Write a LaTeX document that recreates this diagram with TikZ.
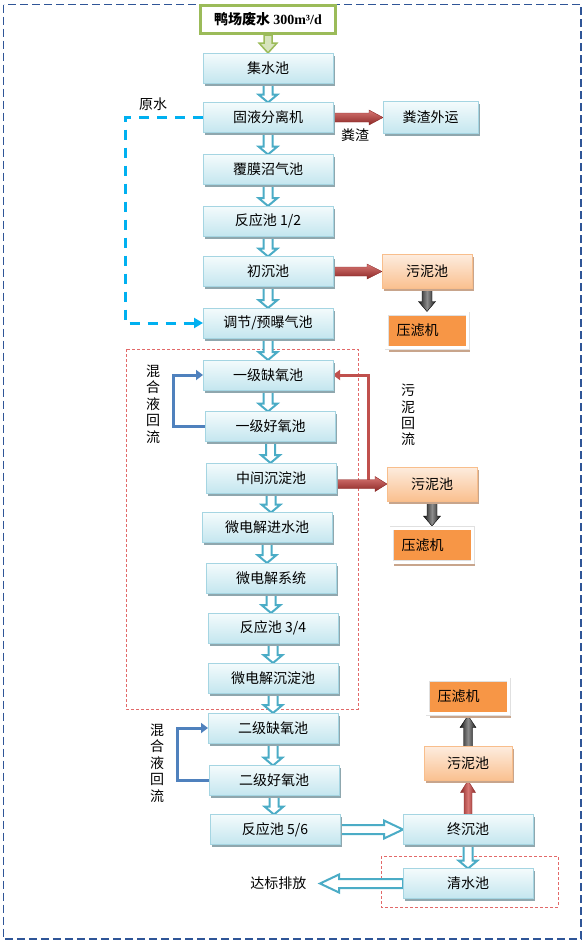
\documentclass[tikz,border=0pt]{standalone}
\usepackage{fontspec}
\setmainfont{Noto Sans CJK SC}
\newfontfamily\tnr{Liberation Serif}
\usepackage{tikz}
\usetikzlibrary{positioning, calc, shadows, backgrounds, arrows.meta}

\definecolor{flowblue}{RGB}{75,172,198}
\definecolor{boxline}{RGB}{165,213,226}
\definecolor{boxtop}{RGB}{244,251,252}
\definecolor{boxbot}{RGB}{196,230,239}
\definecolor{boxshadow}{RGB}{143,167,174}
\definecolor{pressorange}{RGB}{247,150,70}
\definecolor{sludgetop}{RGB}{253,236,222}
\definecolor{sludgebot}{RGB}{250,192,143}
\definecolor{sludgeline}{RGB}{248,190,140}
\definecolor{brownshadow}{RGB}{200,165,140}
\definecolor{inputgreen}{RGB}{155,187,89}
\definecolor{lightgreen}{RGB}{215,228,189}
\definecolor{sludgered}{RGB}{192,80,77}
\definecolor{darkred}{RGB}{140,40,38}
\definecolor{pinkred}{RGB}{215,118,115}
\definecolor{frameblue}{RGB}{47,85,151}
\definecolor{rawcyan}{RGB}{0,176,240}
\definecolor{returnblue}{RGB}{79,129,189}
\definecolor{zonered}{RGB}{226,105,105}

\tikzstyle{Box} = [rectangle, draw=boxline, top color=boxtop, bottom color=boxbot,
minimum width=130pt, minimum height=30pt, inner sep=2pt, outer sep=0pt,
drop shadow={shadow xshift=1.5pt, shadow yshift=-2.5pt, fill=boxshadow, opacity=1}]
\tikzstyle{SludgeBox} = [rectangle, draw=sludgeline, top color=sludgetop, bottom color=sludgebot,
minimum width=90pt, minimum height=34pt, outer sep=0pt,
drop shadow={shadow xshift=1.5pt, shadow yshift=-2.5pt, fill=brownshadow, opacity=1}]
\tikzstyle{PressBox} = [rectangle, fill=pressorange, draw=black!12, double=white, double distance=3pt,
line width=0.5pt, minimum width=81pt, minimum height=34pt, text width=61pt, align=left, inner xsep=10pt,
outer sep=2pt, drop shadow={shadow xshift=2pt, shadow yshift=-4pt, fill=brownshadow, opacity=1}]
\tikzstyle{InputBox} = [rectangle, draw=inputgreen, line width=3pt, fill=white,
minimum width=135pt, minimum height=28pt, font=\fontsize{14}{16}\selectfont\bfseries]
\tikzstyle{VText} = [align=center, inner sep=0pt, font=\fontsize{14}{16.4}\selectfont]
\tikzstyle{Flow} = [draw=flowblue, fill=white, line width=2pt]
\tikzstyle{GreenFlow} = [draw=inputgreen, fill=lightgreen, line width=1.5pt]
\tikzstyle{RedArrow} = [draw=darkred, line width=0.4pt, top color=pinkred, bottom color=darkred]
\tikzstyle{UpRed} = [draw=darkred, line width=0.4pt, left color=darkred, right color=darkred, middle color=pinkred]
\tikzstyle{BlackArrow} = [draw=black, line width=0.4pt, left color=black!90, right color=black!90, middle color=black!45]
\tikzstyle{RawLine} = [draw=rawcyan, line width=3pt, dash pattern=on 10pt off 8pt, -{Triangle[length=9pt,width=10pt]}]
\tikzstyle{MixLine} = [draw=returnblue, line width=3pt, -{Triangle[length=7pt,width=10pt]}]
\tikzstyle{ReturnLine} = [draw=sludgered, line width=3pt, -{Triangle[length=7pt,width=10pt]}]
\tikzstyle{Zone} = [draw=zonered, line width=0.8pt, dash pattern=on 3pt off 2pt]
\tikzstyle{Frame} = [draw=frameblue, line width=1.3pt, dash pattern=on 8pt off 4pt]

% block arrow: [style]{from}{to}{shaft half width}{head half width}{head length}
\newcommand{\blockarrow}[6][]{%
  \coordinate (ba-s) at (#2);
  \coordinate (ba-e) at (#3);
  \coordinate (ba-h) at ($(ba-e)!#6!(ba-s)$);
  \draw[#1] ($(ba-s)!#4!90:(ba-e)$) -- ($(ba-h)!#4!-90:(ba-s)$)
    -- ($(ba-h)!#5!-90:(ba-s)$) -- (ba-e) -- ($(ba-h)!#5!90:(ba-s)$)
    -- ($(ba-h)!#4!90:(ba-s)$) -- ($(ba-s)!#4!-90:(ba-e)$) -- cycle;}

\begin{document}
\begin{tikzpicture}[x=1pt, y=-1pt, node distance=20.8pt, font=\fontsize{14}{16}\selectfont]
    \useasboundingbox (0,0) rectangle (584,943);
    \draw[Frame] (3.5,4.5) rectangle (581,939);

    % main process line
    \node[Box] (jsc) at (268,68) {集水池};
    \node[Box, below =19.5pt of jsc] (gyfl) {固液分离机};
    \node[Box, below =22pt of gyfl] (fmzq) {覆膜沼气池};
    \node[Box, below =21.5pt of fmzq] (fyc1) {反应池 1/2};
    \node[Box, below =20.5pt of fyc1] (ccc) {初沉池};
    \node[Box, below =21.5pt of ccc] (tj) {调节/预曝气池};
    \node[Box, below =22pt of tj] (qy1) {一级缺氧池};
    \node[Box, below =21.5pt of qy1, xshift=2.5pt] (hy1) {一级好氧池};
    \node[Box, below =21.5pt of hy1, xshift=0.5pt] (zj) {中间沉淀池};
    \node[Box, below =19.5pt of zj, xshift=-4pt] (wdj) {微电解进水池};
    \node[Box, below =20.5pt of wdj, xshift=4pt] (wdjxt) {微电解系统};
    \node[Box, below =20pt of wdjxt, xshift=2pt] (fyc2) {反应池 3/4};
    \node[Box, below =20pt of fyc2] (wdjcd) {微电解沉淀池};
    \node[Box, below =20pt of wdjcd] (qy2) {二级缺氧池};
    \node[Box, below =22.5pt of qy2, xshift=1pt] (hy2) {二级好氧池};
    \node[Box, below =19pt of hy2, xshift=1pt] (fyc3) {反应池 5/6};
    \node[InputBox, above =18pt of jsc] (src) {鸭场废水 {\tnr 300m³/d}};

    % side branches
    \node[Box, minimum width=95pt, minimum height=32pt, right =50pt of gyfl] (fzwy) {粪渣外运};
    \node[SludgeBox, right =49pt of ccc] (wn1) {污泥池};
    \node[PressBox, below =23pt of wn1] (ylj1) {压滤机};
    \node[SludgeBox, right =51pt of zj, yshift=-6pt] (wn2) {污泥池};
    \node[PressBox, below =25pt of wn2] (ylj2) {压滤机};
    \node[Box, right =63pt of fyc3] (zcc) {终沉池};
    \node[Box, below =24pt of zcc] (qsc) {清水池};
    \node[SludgeBox, minimum width=88pt, above =34pt of zcc] (wn3) {污泥池};
    \node[PressBox, above =31pt of wn3] (ylj3) {压滤机};
    \node[left =93pt of qsc] (dbpf) {达标排放};

    % labels
    \node (ys) at (153,104) {原水};
    \node (fz) at (355,135) {粪渣};
    \node[VText] (hh1) at (153,404) {混\\合\\液\\回\\流};
    \node[VText] (hh2) at (157,763) {混\\合\\液\\回\\流};
    \node[VText] (wnhl) at (408,415) {污\\泥\\回\\流};

    \coordinate (ysc) at (125,0);
    \coordinate (mx1) at (173,0);
    \coordinate (mx2) at (177,0);
    \coordinate (sr) at (368,0);

    \begin{scope}[on background layer]
    \draw[Zone] (126,349) rectangle (358,709);
    \draw[Zone] (381,856) rectangle (558,907);
    \foreach \a/\b in {jsc/gyfl, gyfl/fmzq, fmzq/fyc1, fyc1/ccc, ccc/tj, tj/qy1, qy1/hy1,
        hy1/zj, zj/wdj, wdj/wdjxt, wdjxt/fyc2, fyc2/wdjcd, wdjcd/qy2, qy2/hy2, hy2/fyc3, zcc/qsc}
        {\blockarrow[Flow]{\a.south}{\a.south |- \b.north}{4.5pt}{9.5pt}{8pt}}
    \blockarrow[Flow]{fyc3.east}{zcc.west}{4.5pt}{9pt}{19pt}
    \blockarrow[Flow]{qsc.west}{[xshift=10pt]dbpf.east}{4.5pt}{9pt}{19pt}
    \blockarrow[GreenFlow]{src.south}{jsc.north}{4pt}{9pt}{10pt}
    \draw[ReturnLine] (wn2.west -| sr) |- (qy1.east);
    \blockarrow[RedArrow]{gyfl.east}{fzwy.west}{4.5pt}{7.5pt}{14pt}
    \blockarrow[RedArrow]{ccc.east}{wn1.west}{4.5pt}{7.5pt}{15pt}
    \blockarrow[RedArrow]{zj.east |- wn2.west}{wn2.west}{4.5pt}{7.5pt}{12pt}
    \blockarrow[BlackArrow]{wn1.south}{ylj1.north}{5pt}{8.5pt}{10pt}
    \blockarrow[BlackArrow]{wn2.south}{ylj2.north}{5pt}{8.5pt}{10pt}
    \blockarrow[BlackArrow]{wn3.north}{ylj3.south}{4.5pt}{8pt}{12pt}
    \blockarrow[UpRed]{zcc.north -| wn3.south}{wn3.south}{4pt}{7.5pt}{12pt}
    \draw[RawLine] (gyfl.west) -- (gyfl.west -| ysc) |- (tj.west);
    \draw[MixLine] (hy1.west) -- (hy1.west -| mx1) |- (qy1.west);
    \draw[MixLine] (hy2.west) -- (hy2.west -| mx2) |- (qy2.west);
    \end{scope}
\end{tikzpicture}
\end{document}
